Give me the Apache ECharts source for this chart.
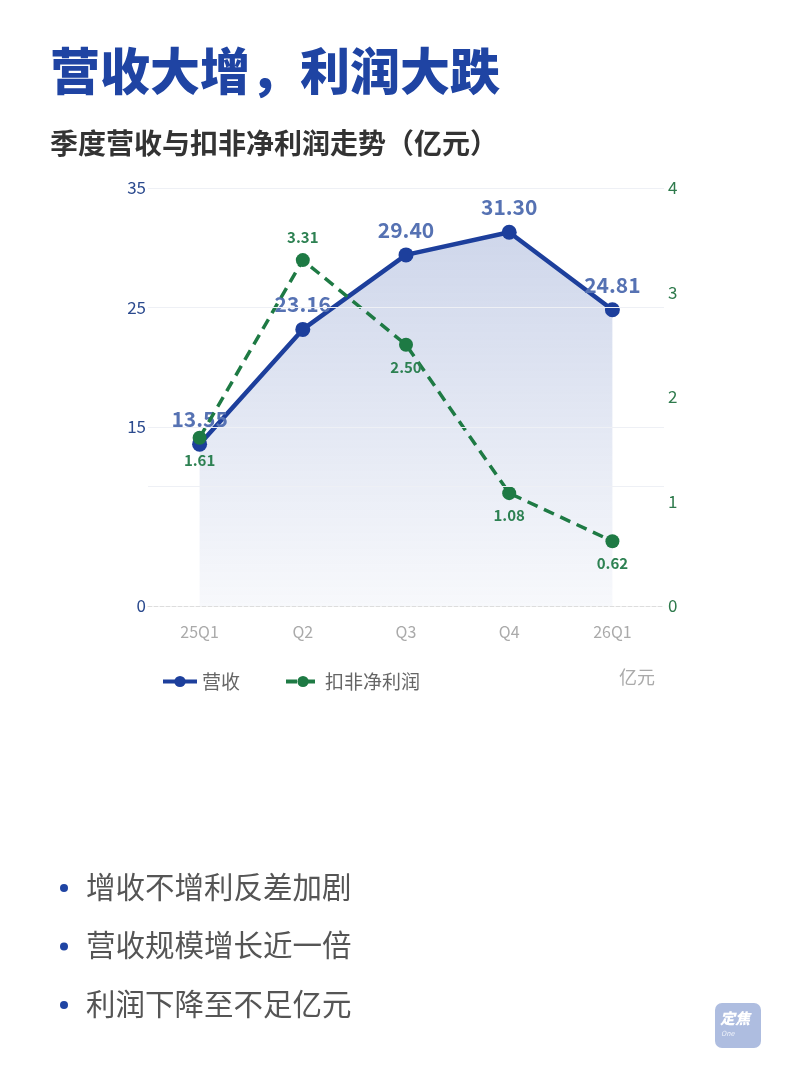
<!DOCTYPE html>
<html>
<head>
<meta charset="utf-8">
<script src="https://cdn.jsdelivr.net/npm/echarts@6/dist/echarts.min.js"></script>
<style>
html,body{margin:0;padding:0;background:#fff;}
#c{width:810px;height:1080px;}
</style>
</head>
<body>
<div id="c"></div>
<script>
const categories = ['25Q1', 'Q2', 'Q3', 'Q4', '26Q1'];
const revenue = [13.55, 23.16, 29.40, 31.30, 24.81];
const profit = [1.61, 3.31, 2.50, 1.08, 0.62];
const leftTickLabels = [0, 15, 25, 35];
const leftGridValues = [10, 15, 25, 35];
const bullets = ['增收不增利反差加剧', '营收规模增长近一倍', '利润下降至不足亿元'];

const FONT = '"Noto Sans CJK SC", "Noto Sans", sans-serif';
const chart = echarts.init(document.getElementById('c'), null, {renderer: 'canvas'});

const graphics = [
  {type: 'text', left: 50, top: 46, style: {text: '营收大增，利润大跌', font: '900 50px ' + FONT, fill: '#1f44a3'}},
  {type: 'text', left: 50, top: 129, style: {text: '季度营收与扣非净利润走势（亿元）', font: 'bold 28px ' + FONT, fill: '#333333'}},
  {type: 'text', right: 155, top: 668, style: {text: '亿元', font: '18px ' + FONT, fill: '#aaaaaa'}}
];
bullets.forEach((b, i) => {
  const y = 888 + i * 58.5;
  graphics.push({type: 'circle', shape: {cx: 64, cy: y, r: 4}, style: {fill: '#1f44a3'}});
  graphics.push({type: 'text', left: 86, top: y - 16, style: {text: b, font: '29.5px ' + FONT, fill: '#555555'}});
});
graphics.push({type: 'rect', shape: {x: 715, y: 1003, width: 46, height: 45, r: 7}, style: {fill: '#aebde0'}});
graphics.push({type: 'text', left: 720, top: 1011, style: {text: '定焦', font: 'italic 900 15px ' + FONT, fill: '#ffffff'}});
graphics.push({type: 'text', left: 721, top: 1030, style: {text: 'One', font: 'italic 7px ' + FONT, fill: '#eef2fa'}});

chart.setOption({
  animation: false,
  textStyle: {fontFamily: FONT},
  graphic: graphics,
  grid: {left: 148, top: 188, width: 516, height: 418, containLabel: false},
  legend: {
    left: 156, top: 667, itemWidth: 34, itemHeight: 14, itemGap: 44,
    lineStyle: {width: 4},
    textStyle: {fontSize: 19, color: '#666666', fontFamily: FONT, padding: [0, 0, 0, 0]},
    data: ['营收', '扣非净利润']
  },
  xAxis: {
    type: 'category', data: categories, boundaryGap: true,
    axisLine: {show: true, lineStyle: {color: '#dddddd', type: 'dashed', width: 1}},
    axisTick: {show: false},
    axisLabel: {color: '#aaaaaa', fontSize: 16, margin: 18, fontFamily: FONT}
  },
  yAxis: [
    {
      type: 'value', min: 0, max: 35, interval: 5,
      axisLine: {show: false}, axisTick: {show: false}, splitLine: {show: false},
      axisLabel: {
        color: '#2b4a8e', fontSize: 17, margin: 2, fontFamily: FONT,
        formatter: v => leftTickLabels.indexOf(v) >= 0 ? String(v) : ''
      }
    },
    {
      type: 'value', min: 0, max: 4, interval: 1, position: 'right',
      axisLine: {show: false}, axisTick: {show: false}, splitLine: {show: false},
      axisLabel: {color: '#2e7a4c', fontSize: 17, margin: 4, fontFamily: FONT}
    }
  ],
  series: [
    {
      name: '营收', type: 'line', yAxisIndex: 0, data: revenue,
      symbol: 'circle', symbolSize: 15,
      lineStyle: {color: '#1d3f9c', width: 4.5},
      itemStyle: {color: '#1d3f9c'},
      areaStyle: {
        color: new echarts.graphic.LinearGradient(0, 0, 0, 1, [
          {offset: 0, color: 'rgba(40,75,165,0.32)'},
          {offset: 1, color: 'rgba(40,75,165,0.05)'}
        ])
      },
      label: {
        show: true, position: 'top', distance: 7,
        color: '#5672b3', fontSize: 21, fontWeight: 'bold', fontFamily: FONT,
        formatter: p => p.value.toFixed(2)
      },
      markLine: {
        silent: true, symbol: 'none', label: {show: false},
        lineStyle: {color: '#eef0f5', type: 'solid', width: 1},
        data: leftGridValues.map(v => ({yAxis: v}))
      },
      z: 2
    },
    {
      name: '扣非净利润', type: 'line', yAxisIndex: 1,
      data: profit.map((v, i) => ({
        value: v,
        label: {position: i === 1 ? 'top' : 'bottom'}
      })),
      symbol: 'circle', symbolSize: 14,
      lineStyle: {color: '#1e7a44', width: 3.5, type: [11, 7]},
      itemStyle: {color: '#1e7a44'},
      label: {
        show: true, distance: 8,
        color: '#2d8152', fontSize: 15, fontWeight: 'bold', fontFamily: FONT,
        formatter: p => p.value.toFixed(2)
      },
      z: 3
    }
  ]
});
</script>
</body>
</html>
